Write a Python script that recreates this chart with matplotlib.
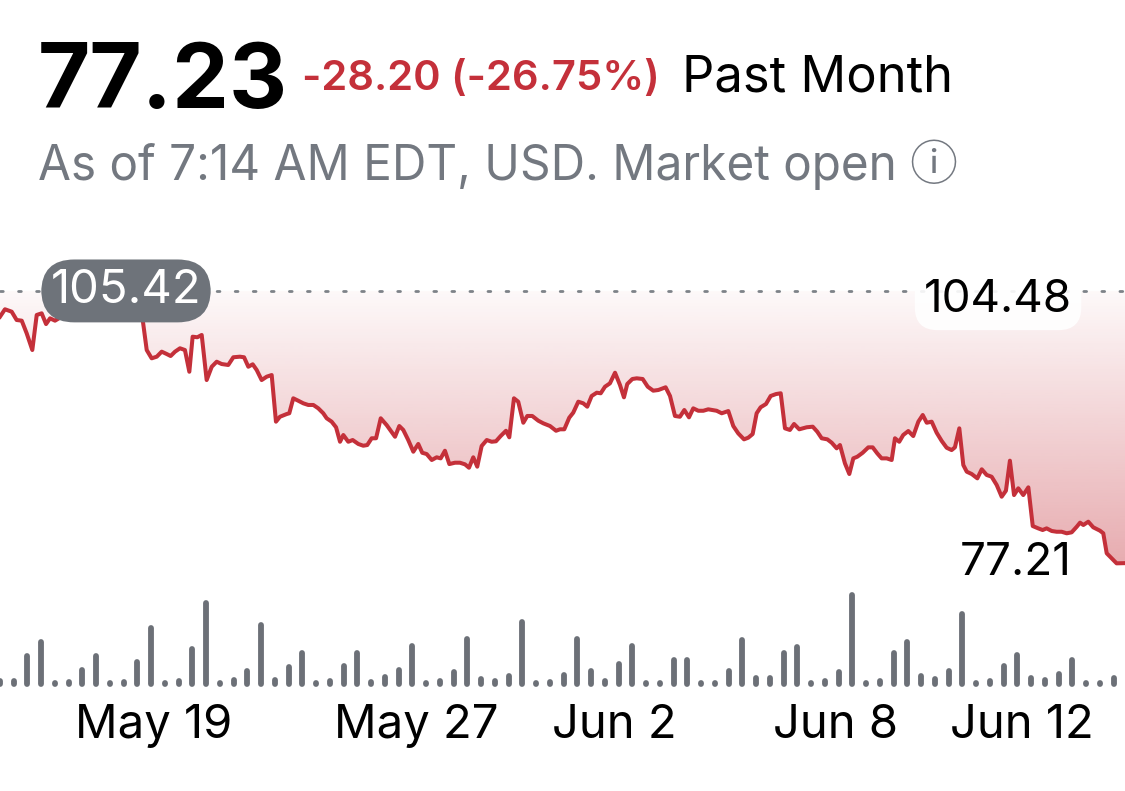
import numpy as np
import matplotlib
matplotlib.use("Agg")
import matplotlib.pyplot as plt
from matplotlib.colors import to_rgb
from matplotlib.transforms import blended_transform_factory

plt.rcParams['font.family'] = ['Inter', 'Noto Sans CJK JP', 'DejaVu Sans']

# header numbers
last_price = 77.23
change = -28.20
change_pct = -26.75
prev_close = 105.42
range_high = 104.48
range_low = 77.21

# price path, x in 8h-session units (volume bars sit on whole numbers)
session_pos = [
    0.00, 0.36, 0.85, 1.21, 1.58, 1.94, 2.35, 2.67, 3.03, 3.35,
    3.64, 4.00, 4.49, 4.97, 5.38, 5.69, 5.94, 6.25, 6.67, 7.03,
    7.27, 7.51, 8.24, 8.73, 9.09, 9.45, 9.69, 10.06, 10.38, 10.67,
    11.03, 11.40, 11.76, 12.12, 12.41, 12.73, 13.09, 13.45, 13.77, 14.01,
    14.35, 14.67, 15.03, 15.40, 15.76, 16.12, 16.60, 16.97, 17.45, 17.75,
    18.06, 18.38, 18.67, 19.03, 19.40, 19.76, 20.07, 20.36, 20.85, 21.04,
    21.33, 21.69, 22.06, 22.42, 22.79, 23.15, 23.51, 23.76, 24.12, 24.44,
    24.73, 24.97, 25.33, 25.65, 26.06, 26.42, 26.71, 27.03, 27.35, 27.69,
    28.12, 28.73, 29.04, 29.33, 29.69, 30.06, 30.42, 30.71, 31.03, 31.40,
    31.76, 32.05, 32.36, 32.68, 33.09, 33.45, 33.82, 34.11, 34.42, 34.71,
    35.03, 35.40, 35.76, 36.07, 36.41, 36.80, 37.04, 37.38, 37.69, 38.06,
    38.35, 38.71, 39.15, 39.51, 40.00, 40.44, 40.73, 41.04, 41.40, 41.69,
    42.06, 42.42, 42.71, 43.03, 43.40, 43.69, 44.00, 44.36, 44.73, 45.09,
    45.38, 45.62, 45.99, 46.31, 46.74, 47.11, 47.51, 47.88, 48.41, 48.73,
    49.09, 49.45, 49.77, 50.11, 50.42, 50.79, 51.15, 51.51, 52.12, 52.49,
    52.97, 53.33, 53.69, 54.11, 54.42, 54.74, 55.03, 55.32, 55.71, 56.05,
    56.44, 56.78, 57.09, 57.45, 57.75, 58.13, 58.67, 59.11, 59.44, 59.76,
    60.17, 60.49, 60.85, 61.09, 61.45, 61.77, 62.06, 62.35, 62.74, 63.15,
    63.47, 63.80, 64.12, 64.49, 64.85, 65.09, 65.40, 65.69, 66.06, 66.42,
    66.79, 67.11, 67.40, 67.76, 68.12, 68.49, 68.85, 69.21, 69.45, 69.77,
    70.06, 70.31, 70.67, 71.08, 71.40, 71.76, 72.12, 72.49, 72.85, 73.16,
    73.45, 73.75, 74.06, 74.42, 74.79, 75.11, 75.51, 75.83, 76.12, 76.49,
    76.85, 77.21, 77.58, 77.94, 78.31, 78.55, 78.79, 79.15, 79.51, 80.00,
    80.24, 80.49, 80.85, 81.21, 81.82,
]
price = [
    102.75, 103.52, 103.27, 102.41, 102.34, 101.03, 99.30, 102.93, 103.10, 101.99,
    102.58, 102.34, 102.75, 103.16, 103.27, 102.93, 103.62, 103.79, 104.07, 103.52,
    104.30, 104.48, 103.96, 103.79, 103.62, 102.93, 102.48, 102.58, 102.41, 99.30,
    98.44, 98.61, 99.13, 98.89, 98.68, 99.13, 99.48, 99.30, 97.05, 100.68,
    100.62, 100.86, 96.19, 97.57, 98.09, 97.85, 97.75, 98.55, 98.61, 98.55,
    97.57, 97.82, 97.23, 96.19, 96.54, 96.71, 91.88, 92.39, 92.67, 92.75,
    94.30, 94.05, 93.78, 93.61, 93.61, 93.26, 92.75, 92.23, 91.88, 91.30,
    89.80, 90.50, 89.80, 89.98, 89.57, 89.39, 89.46, 90.16, 90.16, 92.23,
    91.53, 90.32, 91.43, 91.02, 89.98, 88.77, 89.57, 88.66, 88.53, 87.91,
    88.19, 88.08, 88.87, 87.49, 87.63, 87.63, 87.46, 87.11, 88.19, 87.22,
    89.36, 89.98, 89.80, 89.85, 90.39, 90.94, 90.26, 94.30, 93.95, 91.77,
    92.47, 92.47, 91.98, 91.71, 91.43, 90.94, 91.09, 91.09, 92.29, 92.81,
    93.95, 93.78, 93.43, 94.54, 94.88, 94.82, 95.50, 95.85, 96.95, 95.68,
    94.40, 95.78, 96.30, 96.37, 96.30, 95.50, 95.09, 95.16, 95.44, 94.54,
    92.47, 92.39, 93.09, 92.33, 93.26, 93.01, 93.01, 93.16, 93.01, 92.75,
    92.98, 91.43, 90.67, 90.05, 90.22, 90.60, 92.75, 93.37, 93.71, 94.54,
    94.74, 94.82, 91.19, 91.02, 91.64, 91.09, 91.30, 91.36, 90.84, 90.16,
    90.05, 89.70, 89.12, 89.46, 87.57, 86.46, 88.08, 88.25, 88.66, 89.22,
    89.22, 88.60, 88.08, 88.08, 87.91, 90.16, 89.80, 90.50, 90.91, 90.39,
    91.88, 92.57, 91.77, 91.88, 90.74, 89.88, 89.18, 88.94, 89.22, 91.19,
    87.39, 86.70, 86.46, 86.01, 86.95, 86.36, 86.18, 85.32, 84.11, 84.73,
    87.84, 84.28, 84.98, 84.28, 85.08, 81.07, 80.83, 80.66, 80.83, 80.56,
    80.48, 80.48, 80.32, 80.42, 81.00, 81.42, 81.18, 81.52, 80.94, 80.59,
    80.32, 78.25, 77.73, 77.21, 77.23,
]
# relative volume per session
volume = [
    3.2, 3.2, 29.3, 44.6, 0.5, 1.8, 14.3, 30.0, 0.5, 1.8,
    22.9, 60.4, 0.5, 2.5, 37.9, 87.1, 0.5, 3.6, 13.2, 63.2,
    4.3, 17.5, 33.6, 0.5, 3.2, 18.6, 33.6, 1.8, 6.8, 15.0,
    40.7, 0.5, 3.2, 12.1, 47.9, 5.0, 2.5, 8.6, 67.0, 0.5,
    1.8, 9.0, 48.5, 13.7, 2.5, 20.9, 40.6, 0.5, 1.1, 25.2,
    25.2, 0.5, 1.1, 13.7, 47.5, 6.5, 6.5, 33.1, 39.6, 0.5,
    2.5, 12.6, 95.3, 0.5, 2.5, 33.1, 45.0, 8.3, 5.0, 13.3,
    75.5, 0.5, 2.5, 19.4, 31.3, 6.5, 3.6, 10.1, 25.9, 0.5,
    1.1, 6.1,
]

tick_pos = [11.2, 30.3, 44.7, 60.8, 74.3]
tick_labels = ['May 19', 'May 27', 'Jun 2', 'Jun 8', 'Jun 12']

RED = '#c4303a'
BAR_GRAY = '#6c7077'
TEXT_GRAY = '#737880'
x_end = 81.82

fig = plt.figure(figsize=(11.25, 7.91), dpi=100)
fig.patch.set_facecolor('white')

# ---- price panel ----
ax = fig.add_axes([0, 0.2794, 1, 0.3666])
ax.axis('off')

fill = ax.fill_between(session_pos, price, prev_close, facecolor='none', edgecolor='none')
g = np.linspace(0, 1, 256).reshape(-1, 1)
rgba = np.zeros((256, 1, 4))
rgba[..., :3] = to_rgb(RED)
rgba[..., 3] = 0.40 - 0.37 * g
im = ax.imshow(rgba, extent=[0, x_end, range_low, prev_close], origin='lower',
               aspect='auto', interpolation='bilinear', zorder=1)
im.set_clip_path(fill.get_paths()[0], transform=ax.transData)

ax.axhline(prev_close, color='#7d8288', lw=2.0, linestyle=(0, (1.0, 5.5)),
           dash_capstyle='round', zorder=2)
ax.plot(session_pos, price, color=RED, lw=2.9, solid_joinstyle='round', zorder=3)

ax.set_xlim(0, x_end)
ax.set_ylim(76.52, 106.55)

bt = blended_transform_factory(ax.transAxes, ax.transData)
ax.text(0.112, prev_close, f'{prev_close:.2f}', transform=bt, ha='center', va='center',
        color='white', fontsize=34,
        bbox=dict(boxstyle='round,pad=0.2,rounding_size=0.7', fc='#6e737a', ec='none'),
        zorder=5)
ax.text(0.953, range_high, f'{range_high:.2f}', transform=bt, ha='right', va='center',
        color='black', fontsize=33,
        bbox=dict(boxstyle='round,pad=0.2,rounding_size=0.5', fc='white', ec='none', alpha=0.9),
        zorder=5)
ax.text(0.953, range_low, f'{range_low:.2f}', transform=bt, ha='right', va='center',
        color='black', fontsize=33, zorder=5)

# ---- volume panel ----
axv = fig.add_axes([0, 0.1357, 1, 0.1172])
axv.axis('off')
axv.vlines(np.arange(len(volume)), 0, volume, colors=BAR_GRAY, lw=4.2,
           capstyle='round', clip_on=False)
axv.set_xlim(0, x_end)
axv.set_ylim(0, 100)

lt = blended_transform_factory(axv.transData, fig.transFigure)
for p, lab in zip(tick_pos, tick_labels):
    axv.text(p, 1 - 738 / 791, lab, transform=lt, ha='center', va='baseline',
             fontsize=34, color='black')

# ---- header ----
fig.text(38 / 1125, 1 - 108 / 791, f'{last_price:.2f}', fontsize=65,
         fontweight='bold', va='baseline', color='black')
fig.text(302 / 1125, 1 - 90 / 791, f'{change:.2f} ({change_pct:.2f}%)', fontsize=30,
         fontweight='semibold', va='baseline', color=RED)
fig.text(682 / 1125, 1 - 91 / 791, 'Past Month', fontsize=36.5, va='baseline', color='black')
fig.text(38 / 1125, 1 - 180 / 791, 'As of 7:14 AM EDT, USD. Market open \u24d8',
         fontsize=34.4, va='baseline', color=TEXT_GRAY)

fig.savefig('out.png', dpi=100)
